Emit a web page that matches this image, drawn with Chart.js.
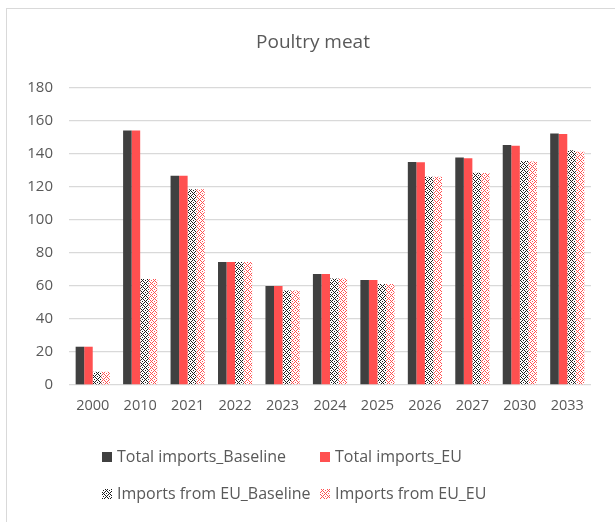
<!DOCTYPE html>
<html>
<head>
<meta charset="utf-8">
<script src="https://cdn.jsdelivr.net/npm/chart.js@4.4.1/dist/chart.umd.min.js"></script>
<style>
  html, body { margin: 0; padding: 0; background: #fff; }
  #wrap { position: relative; width: 615px; height: 522px; overflow: hidden; }
  #frame { position: absolute; left: 6px; top: 8px; width: 640px; height: 540px; border: 1px solid #d9d9d9; box-sizing: border-box; }
  canvas { position: absolute; left: 0; top: 0; }
</style>
</head>
<body>
<div id="wrap">
  <div id="frame"></div>
  <canvas id="grafico" width="615" height="522"></canvas>
</div>
<script>
const anos = ["2000", "2010", "2021", "2022", "2023", "2024", "2025", "2026", "2027", "2030", "2033"];
const totalBaseline = [23.2, 154.3, 126.8, 74.5, 60.0, 67.2, 63.6, 135.2, 137.9, 145.5, 152.5];
const totalEU       = [23.2, 154.3, 126.8, 74.5, 60.0, 67.2, 63.6, 135.0, 137.5, 145.0, 152.1];
const importsBaseline = [8.0, 64.3, 118.6, 74.5, 57.2, 64.5, 61.2, 126.2, 128.7, 135.8, 142.2];
const importsEU       = [8.0, 64.3, 118.6, 74.5, 57.2, 64.5, 61.2, 126.2, 128.5, 135.4, 141.4];
const ticksY = [0, 20, 40, 60, 80, 100, 120, 140, 160, 180];

const FONTE = "'Open Sans', 'Noto Sans', sans-serif";
const CINZA = "#595959";

// small "x" confetti tile used for the imports-from-EU bars
function padrao(cor) {
    const c = document.createElement("canvas");
    c.width = 6; c.height = 6;
    const g = c.getContext("2d");
    g.fillStyle = "#fff";
    g.fillRect(0, 0, 6, 6);
    g.fillStyle = cor;
    [[0, 0], [2, 0], [1, 1], [0, 2], [2, 2], [3, 3], [5, 3], [4, 4], [3, 5], [5, 5], [1, 4], [4, 1]]
        .forEach(([x, y]) => g.fillRect(x, y, 1, 1));
    return g.createPattern(c, "repeat");
}

const ctx = document.getElementById("grafico").getContext("2d");
const padraoPreto = padrao("#1a1a1a");
const padraoVermelho = padrao("#ff5050");

// title and 2x2 legend drawn on the canvas
const extras = {
    id: "extras",
    afterDraw(chart) {
        const c = chart.ctx;
        c.save();
        c.fillStyle = CINZA;
        c.font = "19px " + FONTE;
        c.textAlign = "center";
        c.textBaseline = "middle";
        c.fillText("Poultry meat", 313, 43);

        const pos = [[102, 457], [320, 457], [102, 494], [320, 494]];
        c.font = "16px " + FONTE;
        c.textAlign = "left";
        chart.data.datasets.forEach((ds, i) => {
            const [x, y] = pos[i];
            c.fillStyle = ds.backgroundColor;
            c.fillRect(x, y - 5, 10, 10);
            c.fillStyle = CINZA;
            c.fillText(ds.label, x + 15, y);
        });
        c.restore();
    }
};

new Chart(ctx, {
    type: "bar",
    data: {
        labels: anos,
        datasets: [
            { label: "Total imports_Baseline", data: totalBaseline, backgroundColor: "#404040" },
            { label: "Total imports_EU", data: totalEU, backgroundColor: "#ff5050" },
            { label: "Imports from EU_Baseline", data: importsBaseline, backgroundColor: padraoPreto },
            { label: "Imports from EU_EU", data: importsEU, backgroundColor: padraoVermelho }
        ]
    },
    options: {
        responsive: false,
        animation: false,
        layout: { padding: { top: 88, right: 24, left: 0, bottom: 0 } },
        datasets: { bar: { categoryPercentage: 0.72, barPercentage: 1.0 } },
        plugins: {
            legend: { display: false },
            title: { display: false },
            tooltip: { enabled: false }
        },
        scales: {
            x: {
                grid: { display: false, drawTicks: false },
                border: { display: false },
                ticks: { color: CINZA, font: { family: FONTE, size: 14.5 }, padding: 12, maxRotation: 0 },
                afterFit(s) { s.height = 137; }
            },
            y: {
                min: 0,
                max: 180,
                afterBuildTicks(s) { s.ticks = ticksY.map(v => ({ value: v })); },
                grid: { color: "#d9d9d9", lineWidth: 1.3, drawTicks: false },
                border: { display: false },
                ticks: { color: CINZA, font: { family: FONTE, size: 15 }, padding: 16 },
                afterFit(s) { s.width = 69; }
            }
        }
    },
    plugins: [extras]
});
</script>
</body>
</html>
